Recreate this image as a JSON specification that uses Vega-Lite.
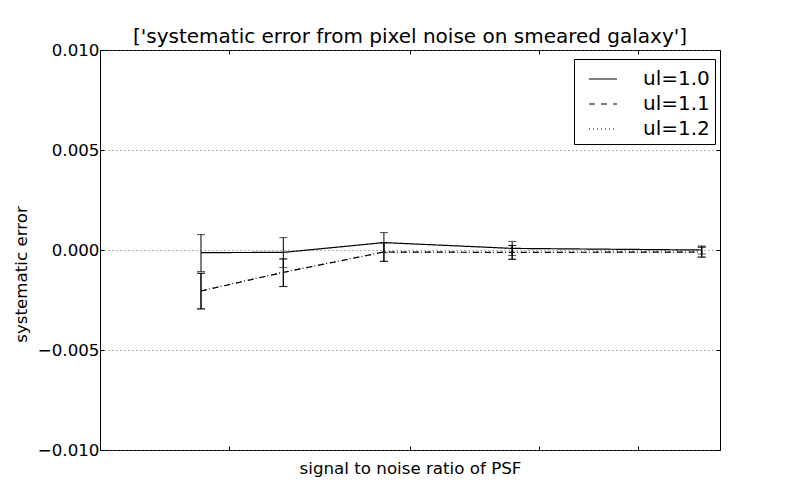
{
  "$schema": "https://vega.github.io/schema/vega-lite/v6.json",
  "autosize": "none",
  "width": 620,
  "height": 400,
  "padding": {"left": 100, "top": 50, "right": 80, "bottom": 50},
  "background": "white",
  "title": {
    "text": "['systematic error from pixel noise on smeared galaxy']",
    "font": "DejaVu Sans",
    "fontSize": 20,
    "fontWeight": "normal",
    "color": "black",
    "offset": -5
  },
  "config": {
    "view": {"stroke": "black", "strokeWidth": 1},
    "font": "DejaVu Sans",
    "axis": {
      "labelFont": "DejaVu Sans",
      "titleFont": "DejaVu Sans",
      "labelFontSize": 16.7,
      "titleFontSize": 16.7,
      "labelColor": "black",
      "titleColor": "black",
      "titleFontWeight": "normal",
      "tickColor": "black",
      "domain": false
    }
  },
  "data": {
    "values": [
      {"snr": 18.8, "series": "ul=1.0", "y": -0.00013, "lo": -0.00108, "hi": 0.00077},
      {"snr": 22.6, "series": "ul=1.0", "y": -0.00012, "lo": -0.00088, "hi": 0.00062},
      {"snr": 28.3, "series": "ul=1.0", "y": 0.00037, "lo": -0.00013, "hi": 0.00087},
      {"snr": 37.7, "series": "ul=1.0", "y": 0.00008, "lo": -0.00027, "hi": 0.00043},
      {"snr": 57.6, "series": "ul=1.0", "y": 0.0, "lo": -0.0002, "hi": 0.0002},
      {"snr": 18.8, "series": "ul=1.1", "y": -0.00205, "lo": -0.00295, "hi": -0.00117},
      {"snr": 22.6, "series": "ul=1.1", "y": -0.00112, "lo": -0.00183, "hi": -0.00045},
      {"snr": 28.3, "series": "ul=1.1", "y": -0.0001, "lo": -0.00057, "hi": 0.00037},
      {"snr": 37.7, "series": "ul=1.1", "y": -0.00012, "lo": -0.00047, "hi": 0.00023},
      {"snr": 57.6, "series": "ul=1.1", "y": -0.0001, "lo": -0.00036, "hi": 0.00015},
      {"snr": 18.8, "series": "ul=1.2", "y": -0.00204, "lo": -0.00294, "hi": -0.00116},
      {"snr": 22.6, "series": "ul=1.2", "y": -0.00111, "lo": -0.00182, "hi": -0.00044},
      {"snr": 28.3, "series": "ul=1.2", "y": -0.0001, "lo": -0.00056, "hi": 0.00036},
      {"snr": 37.7, "series": "ul=1.2", "y": -0.00012, "lo": -0.00046, "hi": 0.00022},
      {"snr": 57.6, "series": "ul=1.2", "y": -0.0001, "lo": -0.00035, "hi": 0.00014}
    ]
  },
  "layer": [
    {
      "mark": {"type": "line", "color": "black", "strokeWidth": 1.2},
      "encoding": {
        "x": {
          "field": "snr",
          "type": "quantitative",
          "title": "signal to noise ratio of PSF",
          "scale": {"type": "log", "domain": [15, 60], "nice": false},
          "axis": {"values": [20, 30, 40, 50], "labels": false, "grid": false, "tickSize": -4, "titlePadding": 10}
        },
        "y": {
          "field": "y",
          "type": "quantitative",
          "title": "systematic error",
          "scale": {"domain": [-0.01, 0.01], "nice": false},
          "axis": {
            "values": [-0.01, -0.005, 0, 0.005, 0.01],
            "format": ".3f",
            "grid": true,
            "gridColor": "#666666",
            "gridDash": [1, 3],
            "gridWidth": 1,
            "tickSize": -4,
            "labelPadding": 5,
            "titleAngle": 270,
            "titleAlign": "center",
            "titleBaseline": "middle",
            "titleX": -79,
            "titleY": 224
          }
        },
        "strokeDash": {
          "field": "series",
          "type": "nominal",
          "scale": {"domain": ["ul=1.0", "ul=1.1", "ul=1.2"], "range": [[1, 0], [6, 6], [1, 3]]},
          "legend": {
            "title": null,
            "orient": "none",
            "legendX": 474,
            "legendY": 9,
            "symbolType": "stroke",
            "symbolSize": 784,
            "symbolOffset": 9,
            "symbolStrokeColor": "black",
            "symbolStrokeWidth": 1.2,
            "labelFontSize": 20,
            "labelFont": "DejaVu Sans",
            "labelColor": "black",
            "labelOffset": 25,
            "rowPadding": 0,
            "padding": 5,
            "strokeColor": "black",
            "fillColor": "white",
            "cornerRadius": 0
          }
        }
      }
    },
    {
      "mark": {
        "type": "errorbar",
        "rule": {"color": "black", "strokeWidth": 1},
        "ticks": {"color": "black", "size": 8, "thickness": 1}
      },
      "encoding": {
        "x": {
          "field": "snr",
          "type": "quantitative",
          "axis": {"values": [20, 30, 40, 50], "labels": false, "grid": false, "tickSize": -4, "title": null}
        },
        "y": {
          "field": "lo",
          "type": "quantitative",
          "axis": {"values": [-0.01, -0.005, 0, 0.005, 0.01], "labels": false, "grid": false, "tickSize": -4, "title": null}
        },
        "y2": {"field": "hi"}
      }
    }
  ],
  "resolve": {"axis": {"x": "independent", "y": "independent"}}
}
